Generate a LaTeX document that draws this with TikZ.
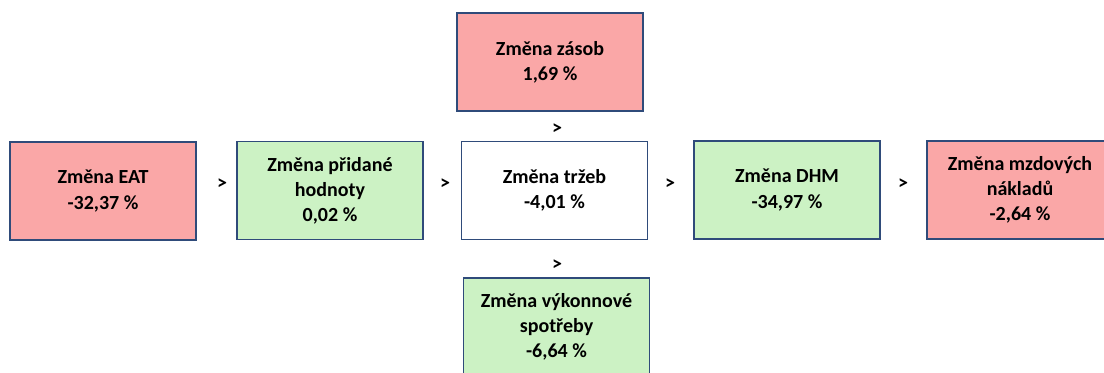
\documentclass[tikz,border=0pt]{standalone}
\usepackage{fontspec}
\setmainfont{Carlito}
\definecolor{boxred}{RGB}{250,167,167}
\definecolor{boxgreen}{RGB}{204,242,196}
\definecolor{boxborder}{RGB}{47,75,122}
\tikzset{
  kpi/.style={draw=boxborder, line width=1.3pt, minimum width=139.5pt, minimum height=73.5pt,
    inner sep=0pt, align=center, font=\bfseries\fontsize{15}{18.8}\selectfont},
  redbox/.style={kpi, fill=boxred},
  greenbox/.style={kpi, fill=boxgreen},
  whitebox/.style={kpi, fill=white},
  gt/.style={inner sep=0pt, font=\bfseries\fontsize{15}{18}\selectfont}
}
\begin{document}
\begin{tikzpicture}[x=0.75pt,y=-0.75pt]
\useasboundingbox (0,0) rectangle (1104,372);
\clip (0,0) rectangle (1104,372);
\fill[white] (0,0) rectangle (1104,372);
\node[redbox] (eat) at (103,191) {Změna EAT\\-32,37 \%};
\node[greenbox] (pridana) at (330,190.5) {Změna přidané\\hodnoty\\0,02 \%};
\node[whitebox] (trzby) at (554.5,190.5) {Změna tržeb\\-4,01 \%};
\node[greenbox] (dhm) at (787,190) {Změna DHM\\-34,97 \%};
\node[redbox] (mzdy) at (1020,190) {Změna mzdových\\nákladů\\-2,64 \%};
\node[redbox] (zasoby) at (550,62) {Změna zásob\\1,69 \%};
\node[greenbox] (spotreba) at (556.5,327) {Změna výkonnové\\spotřeby\\-6,64 \%};
\node[gt] (g1) at (222,184) {>};
\node[gt] (g2) at (445,184) {>};
\node[gt] (g3) at (670,184) {>};
\node[gt] (g4) at (903,184) {>};
\node[gt] (g5) at (557,129) {>};
\node[gt] (g6) at (557,265) {>};
\end{tikzpicture}
\end{document}
